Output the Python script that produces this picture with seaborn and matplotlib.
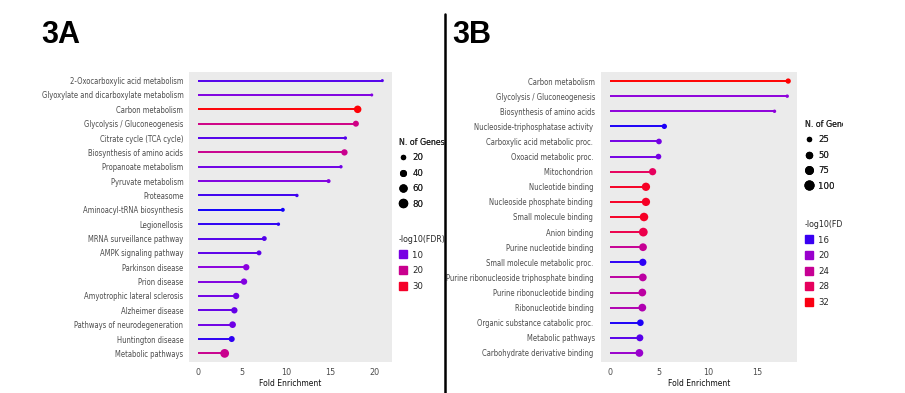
import numpy as np
import pandas as pd
import seaborn as sns
import matplotlib.pyplot as plt
from matplotlib import font_manager
from matplotlib.colors import LinearSegmentedColormap, Normalize
from matplotlib.lines import Line2D
from matplotlib.transforms import Bbox

# 3A - KEGG pathways
termsA = ["2-Oxocarboxylic acid metabolism", "Glyoxylate and dicarboxylate metabolism",
          "Carbon metabolism", "Glycolysis / Gluconeogenesis", "Citrate cycle (TCA cycle)",
          "Biosynthesis of amino acids", "Propanoate metabolism", "Pyruvate metabolism",
          "Proteasome", "Aminoacyl-tRNA biosynthesis", "Legionellosis",
          "MRNA surveillance pathway", "AMPK signaling pathway", "Parkinson disease",
          "Prion disease", "Amyotrophic lateral sclerosis", "Alzheimer disease",
          "Pathways of neurodegeneration", "Huntington disease", "Metabolic pathways"]
foldA = [20.9, 19.7, 18.1, 17.9, 16.7, 16.6, 16.2, 14.8, 11.2, 9.6, 9.1,
         7.5, 6.9, 5.45, 5.2, 4.3, 4.1, 3.9, 3.8, 3.0]
genesA = [12, 12, 70, 45, 15, 50, 15, 20, 15, 20, 15,
          30, 30, 50, 50, 50, 50, 55, 45, 95]
fdrA = [8, 10.5, 33, 21, 8, 20, 9.5, 10.5, 7, 4.5, 6,
        8, 8.5, 11, 10.5, 9.5, 9, 9.5, 6, 20]

# 3B - GO / KEGG terms
termsB = ["Carbon metabolism", "Glycolysis / Gluconeogenesis", "Biosynthesis of amino acids",
          "Nucleoside-triphosphatase activity ", "Carboxylic acid metabolic proc. ",
          "Oxoacid metabolic proc. ", "Mitochondrion ", "Nucleotide binding ",
          "Nucleoside phosphate binding ", "Small molecule binding ", "Anion binding ",
          "Purine nucleotide binding ", "Small molecule metabolic proc. ",
          "Purine ribonucleoside triphosphate binding ", "Purine ribonucleotide binding ",
          "Ribonucleotide binding ", "Organic substance catabolic proc. ",
          "Metabolic pathways", "Carbohydrate derivative binding "]
foldB = [18.2, 18.1, 16.8, 5.55, 5.0, 4.95, 4.35, 3.67, 3.67, 3.47, 3.4,
         3.37, 3.35, 3.35, 3.3, 3.3, 3.1, 3.05, 3.0]
genesB = [40, 20, 20, 40, 45, 45, 70, 90, 90, 95, 100,
          80, 70, 80, 80, 80, 60, 65, 80]
fdrB = [33, 19, 19, 15, 18, 18, 28, 31, 31, 31, 29,
        24, 15.5, 23, 23, 22, 15, 17, 20]

sizeA_ticks = [20, 40, 60, 80]
fdrA_ticks = [10, 20, 30]
sizeB_ticks = [25, 50, 75, 100]
fdrB_ticks = [16, 20, 24, 28, 32]

sns.set_style("white")

fonts = font_manager.fontManager.ttflist
names = {f.name for f in fonts}
condensed = any(f.name == "DejaVu Sans" and "condensed" in str(f.stretch) for f in fonts)
if "Liberation Sans Narrow" in names:
    plt.rcParams["font.family"] = ["Liberation Sans Narrow", "DejaVu Sans"]
    fs = 6.3
elif condensed:
    plt.rcParams["font.family"] = ["DejaVu Sans"]
    plt.rcParams["font.stretch"] = "condensed"
    fs = 5.5
else:
    plt.rcParams["font.family"] = ["DejaVu Sans"]
    fs = 5.0

cmap = LinearSegmentedColormap.from_list(
    "fdr", ["#0000FF", "#8B00DE", "#C2009B", "#E8005A", "#FF0000"])
SIZES = (4, 42)
GREY = "#4D4D4D"


def lollipop(fig, rect, terms, fold, genes, fdr, hue_norm, size_norm, xlim, xticks):
    ax = fig.add_axes(rect)
    ax.set_facecolor("#EBEBEB")
    df = pd.DataFrame({"term": terms, "fold": fold, "genes": genes, "fdr": fdr})
    df["pos"] = np.arange(len(df))
    norm = Normalize(*hue_norm)
    ax.hlines(df["pos"], 0, df["fold"], colors=cmap(norm(df["fdr"])), lw=1.4, zorder=2)
    sns.scatterplot(data=df, x="fold", y="pos", hue="fdr", size="genes",
                    palette=cmap, hue_norm=hue_norm, size_norm=size_norm,
                    sizes=SIZES, linewidth=0, legend=False, ax=ax, zorder=3)
    ax.set_ylim(len(df) - 0.4, -0.6)
    ax.set_xlim(*xlim)
    ax.set_yticks(df["pos"], df["term"])
    ax.set_xticks(xticks)
    ax.tick_params(axis="both", length=2.5, width=0.6, color=GREY,
                   labelcolor=GREY, labelsize=fs, pad=1.5)
    ax.tick_params(axis="x", labelsize=fs + 1)
    for s in ax.spines.values():
        s.set_visible(False)
    ax.set_ylabel("")
    ax.set_xlabel("Fold Enrichment", fontsize=fs + 0.6, color="#111111", labelpad=2)
    return ax, norm


def size_of(v, size_norm):
    lo, hi = size_norm
    return SIZES[0] + (v - lo) / (hi - lo) * (SIZES[1] - SIZES[0])


def legends(fig, x, ytop1, ytop2, size_ticks, size_norm, fdr_ticks, norm, clip_x=None):
    h1 = [Line2D([], [], marker="o", ls="", color="black",
                 markersize=np.sqrt(size_of(v, size_norm))) for v in size_ticks]
    l1 = fig.legend(h1, [str(v) for v in size_ticks], title="N. of Genes",
                    loc="upper left", bbox_to_anchor=(x, ytop1), frameon=False,
                    fontsize=fs + 1.3, title_fontsize=fs + 0.8, alignment="left",
                    handlelength=0.8, handletextpad=0.6, labelspacing=0.68,
                    borderpad=0, borderaxespad=0)
    h2 = [Line2D([], [], marker="s", ls="", color=cmap(norm(v)), markersize=6)
          for v in fdr_ticks]
    l2 = fig.legend(h2, [str(v) for v in fdr_ticks], title="-log10(FDR)",
                    loc="upper left", bbox_to_anchor=(x, ytop2), frameon=False,
                    fontsize=fs + 1.3, title_fontsize=fs + 0.8, alignment="left",
                    handlelength=0.8, handletextpad=0.6, labelspacing=0.7,
                    borderpad=0, borderaxespad=0)
    fig.add_artist(l1)
    if clip_x is not None:
        box = Bbox([[0, 0], [clip_x, H]])
        for leg in (l1, l2):
            t = leg.get_title()
            t.set_clip_box(box)
            t.set_clip_on(True)


W, H = 905, 393
fig = plt.figure(figsize=(W / 100, H / 100), dpi=100)

size_normA = (10, 100)
size_normB = (15, 105)
axA, normA = lollipop(fig, [189 / W, 31 / H, 203 / W, 290 / H], termsA, foldA, genesA, fdrA,
                      (3.5, 33.5), size_normA, (-1.05, 22), [0, 5, 10, 15, 20])
axB, normB = lollipop(fig, [601 / W, 31 / H, 196 / W, 290 / H], termsB, foldB, genesB, fdrB,
                      (14, 33), size_normB, (-0.92, 19.1), [0, 5, 10, 15])

legends(fig, 399 / W, 1 - 138 / H, 1 - 235 / H, sizeA_ticks, size_normA, fdrA_ticks, normA)
legends(fig, 805 / W, 1 - 120 / H, 1 - 220 / H, sizeB_ticks, size_normB, fdrB_ticks, normB,
        clip_x=843)

for xx, lab in [(41, "3A"), (452, "3B")]:
    fig.text(xx / W, 1 - 43 / H, lab, fontsize=22, fontweight="bold", color="black",
             family=["Liberation Sans", "DejaVu Sans"], stretch="normal", va="baseline")
fig.add_artist(Line2D([445 / W, 445 / W], [0, 1 - 14 / H], color="black", lw=1.8))

fig.savefig("out.png", dpi=100)
